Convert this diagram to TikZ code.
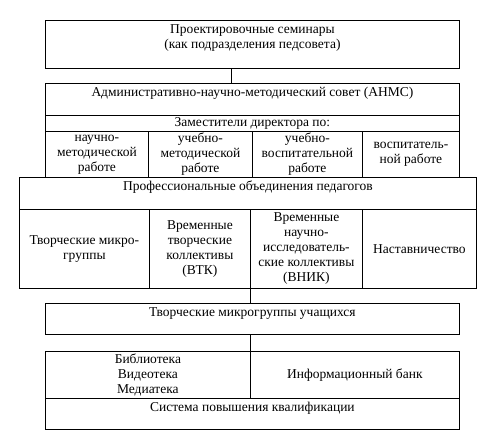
\documentclass[tikz,border=0pt]{standalone}
\usepackage{fontspec}
\setmainfont{Liberation Serif}
\begin{document}
\begin{tikzpicture}[x=1pt,y=-1pt,
  box/.style={draw, line width=0.8pt, inner sep=0pt, anchor=north west,
    font=\fontsize{13.5}{15}\selectfont, align=center},
  txt/.style={font=\fontsize{13.5}{15.5}\selectfont, align=center, inner sep=0pt}]
\useasboundingbox (0,0) rectangle (496,440);
% boxes
\node[box, minimum width=414pt, minimum height=48pt] (top) at (45,20) {};
\node[box, minimum width=414pt, minimum height=32pt] (anms) at (45,83) {};
\node[box, minimum width=414pt, minimum height=16pt] (zam) at (45,115) {Заместители директора по:};
\node[box, minimum width=103pt, minimum height=46pt] (c1) at (45,131) {научно-\\методической\\работе};
\node[box, minimum width=104pt, minimum height=46pt] (c2) at (148,131) {учебно-\\методической\\работе};
\node[box, minimum width=110pt, minimum height=46pt] (c3) at (252,131) {учебно-\\воспитательной\\работе};
\node[box, minimum width=97pt, minimum height=46pt] (c4) at (362,131) {воспитатель-\\ной работе};
\node[box, minimum width=457pt, minimum height=32pt] (pro) at (19,177) {};
\node[box, minimum width=130pt, minimum height=79pt] (r1) at (19,209) {Творческие микро-\\группы};
\node[box, minimum width=101pt, minimum height=79pt] (r2) at (149,209) {Временные\\творческие\\коллективы\\(ВТК)};
\node[box, minimum width=112pt, minimum height=79pt] (r3) at (250,209) {Временные\\научно-\\исследователь-\\ские коллективы\\(ВНИК)};
\node[box, minimum width=114pt, minimum height=79pt] (r4) at (362,209) {Наставничество};
\node[box, minimum width=414pt, minimum height=31pt] (uch) at (45,303) {};
\node[box, minimum width=205pt, minimum height=47pt] (lib) at (45,351) {Библиотека\\Видеотека\\Медиатека};
\node[box, minimum width=209pt, minimum height=47pt] (info) at (250,351) {Информационный банк};
\node[box, minimum width=414pt, minimum height=31pt] (sys) at (45,398) {};
% top-aligned texts
\node[txt, anchor=north] (ttop) at ([yshift=-4pt]top.north) {Проектировочные семинары\\(как подразделения педсовета)};
\node[txt, anchor=base] (tanms) at ([yshift=-13pt]anms.north) {Административно-научно-методический совет (АНМС)};
\node[txt, anchor=base] (tpro) at ([yshift=-13pt]pro.north) {Профессиональные объединения педагогов};
\node[txt, anchor=base] (tuch) at ([yshift=-13pt]uch.north) {Творческие микрогруппы учащихся};
\node[txt, anchor=base] (tsys) at ([yshift=-13pt]sys.north) {Система повышения квалификации};
% connectors
\coordinate (k1) at (231,0);
\draw[line width=0.8pt] (top.south -| k1) -- (anms.north -| k1);
\draw[line width=0.8pt] (r3.south west) -- (uch.north -| r3.south west);
\draw[line width=0.8pt] (uch.south -| lib.north east) -- (lib.north east);
\end{tikzpicture}
\end{document}
